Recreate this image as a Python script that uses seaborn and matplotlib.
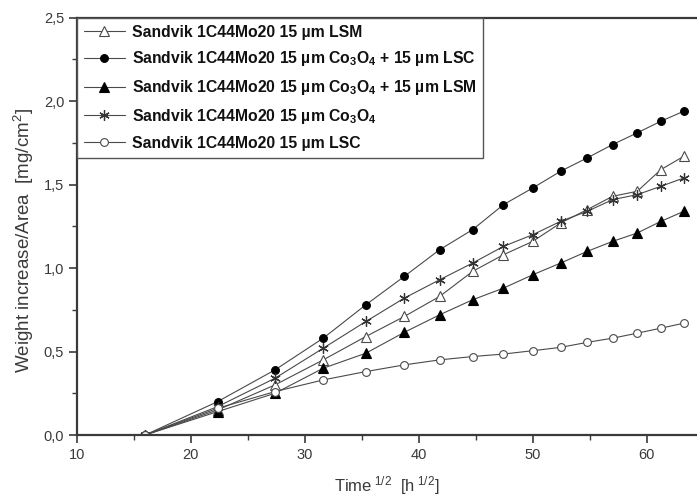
import numpy as np
import pandas as pd
import seaborn as sns
import matplotlib
matplotlib.use("Agg")
import matplotlib.pyplot as plt
from matplotlib.ticker import MultipleLocator, FuncFormatter

# square root of exposure time (h^1/2)
time_sqrt = [16.0, 22.36, 27.39, 31.62, 35.36, 38.73, 41.83, 44.72,
             47.43, 50.0, 52.44, 54.77, 57.0, 59.16, 61.24, 63.25]

# weight gain per area (mg/cm^2)
lsm = [0.0, 0.15, 0.30, 0.45, 0.59, 0.71, 0.83, 0.98,
       1.08, 1.16, 1.27, 1.35, 1.43, 1.46, 1.59, 1.67]
co_lsc = [0.0, 0.20, 0.39, 0.58, 0.78, 0.95, 1.11, 1.23,
          1.38, 1.48, 1.58, 1.66, 1.74, 1.81, 1.88, 1.94]
co_lsm = [0.0, 0.14, 0.25, 0.40, 0.49, 0.615, 0.72, 0.81,
          0.88, 0.96, 1.03, 1.10, 1.16, 1.21, 1.28, 1.34]
co = [0.0, 0.17, 0.34, 0.52, 0.68, 0.82, 0.93, 1.03,
      1.13, 1.20, 1.28, 1.34, 1.41, 1.44, 1.49, 1.54]
lsc = [0.0, 0.16, 0.26, 0.33, 0.38, 0.42, 0.45, 0.47,
       0.485, 0.505, 0.525, 0.555, 0.58, 0.61, 0.64, 0.67]

labels = [
    "Sandvik 1C44Mo20 15 µm LSM",
    r"Sandvik 1C44Mo20 15 µm Co$_\mathbf{3}$O$_\mathbf{4}$ + 15 µm LSC",
    r"Sandvik 1C44Mo20 15 µm Co$_\mathbf{3}$O$_\mathbf{4}$ + 15 µm LSM",
    r"Sandvik 1C44Mo20 15 µm Co$_\mathbf{3}$O$_\mathbf{4}$",
    "Sandvik 1C44Mo20 15 µm LSC",
]
series = [lsm, co_lsc, co_lsm, co, lsc]

sns.set_theme(style="ticks")
plt.rcParams["font.family"] = ["Liberation Sans", "DejaVu Sans"]
plt.rcParams["mathtext.fontset"] = "custom"
plt.rcParams["mathtext.rm"] = "Liberation Sans"
plt.rcParams["mathtext.bf"] = "Liberation Sans:bold"
plt.rcParams["mathtext.it"] = "Liberation Sans:italic"

ink = "#3a3a3a"
line_c = "#4a4a4a"

styles = [
    dict(marker="^", mfc="white", mec=line_c, ms=6.5),
    dict(marker="o", mfc="black", mec="black", ms=5.6),
    dict(marker="^", mfc="black", mec="black", ms=6.5),
    dict(marker=(6, 2, 0), mfc="none", mec="#333333", ms=7.5, mew=0.9),
    dict(marker="o", mfc="white", mec=line_c, ms=5.6),
]

fig = plt.figure(figsize=(6.97, 4.98), dpi=100)
ax = fig.add_axes([0.110, 0.1265, 0.890, 0.838])

for vals, lab, st in zip(series, labels, styles):
    df = pd.DataFrame({"t": time_sqrt, "w": vals})
    sns.lineplot(data=df, x="t", y="w", ax=ax, sort=False, estimator=None,
                 color=line_c, lw=0.8, label=lab, markeredgewidth=st.pop("mew", 0.8),
                 markerfacecolor=st.pop("mfc"), markeredgecolor=st.pop("mec"),
                 markersize=st.pop("ms"), **st)

ax.set_xlim(10, 64.4)
ax.set_ylim(0, 2.5)
ax.xaxis.set_major_locator(MultipleLocator(10))
ax.xaxis.set_minor_locator(MultipleLocator(5))
ax.yaxis.set_major_locator(MultipleLocator(0.5))
ax.yaxis.set_minor_locator(MultipleLocator(0.25))
ax.yaxis.set_major_formatter(FuncFormatter(lambda v, p: f"{v:.1f}".replace(".", ",")))

for s in ["left", "bottom", "top"]:
    ax.spines[s].set_color(ink)
    ax.spines[s].set_linewidth(1.6)
ax.spines["right"].set_visible(False)
ax.tick_params(which="major", direction="out", length=6, width=1.2, color=ink,
               labelsize=10.5, labelcolor=ink, pad=3)
ax.tick_params(which="minor", direction="out", length=3.5, width=1.0, color=ink)

ax.set_xlabel(r"Time$^{\ 1/2}$  [h$^{\ 1/2}$]", fontsize=12, color=ink, labelpad=9)
ax.set_ylabel(r"Weight increase/Area  [mg/cm$^2$]", fontsize=13.5, color=ink)
ax.yaxis.set_label_coords(-0.066, 0.465)

leg = ax.legend(loc="upper left", bbox_to_anchor=(0.0, 1.0), borderaxespad=0,
                frameon=True, fancybox=False, edgecolor="#555555", framealpha=1,
                prop={"weight": "bold", "size": 11.3}, handlelength=2.6,
                handletextpad=0.45, labelspacing=0.62, borderpad=0.45)
leg.get_frame().set_linewidth(1.0)
for t in leg.get_texts():
    t.set_color("#111111")

fig.savefig("out.png", dpi=100)
